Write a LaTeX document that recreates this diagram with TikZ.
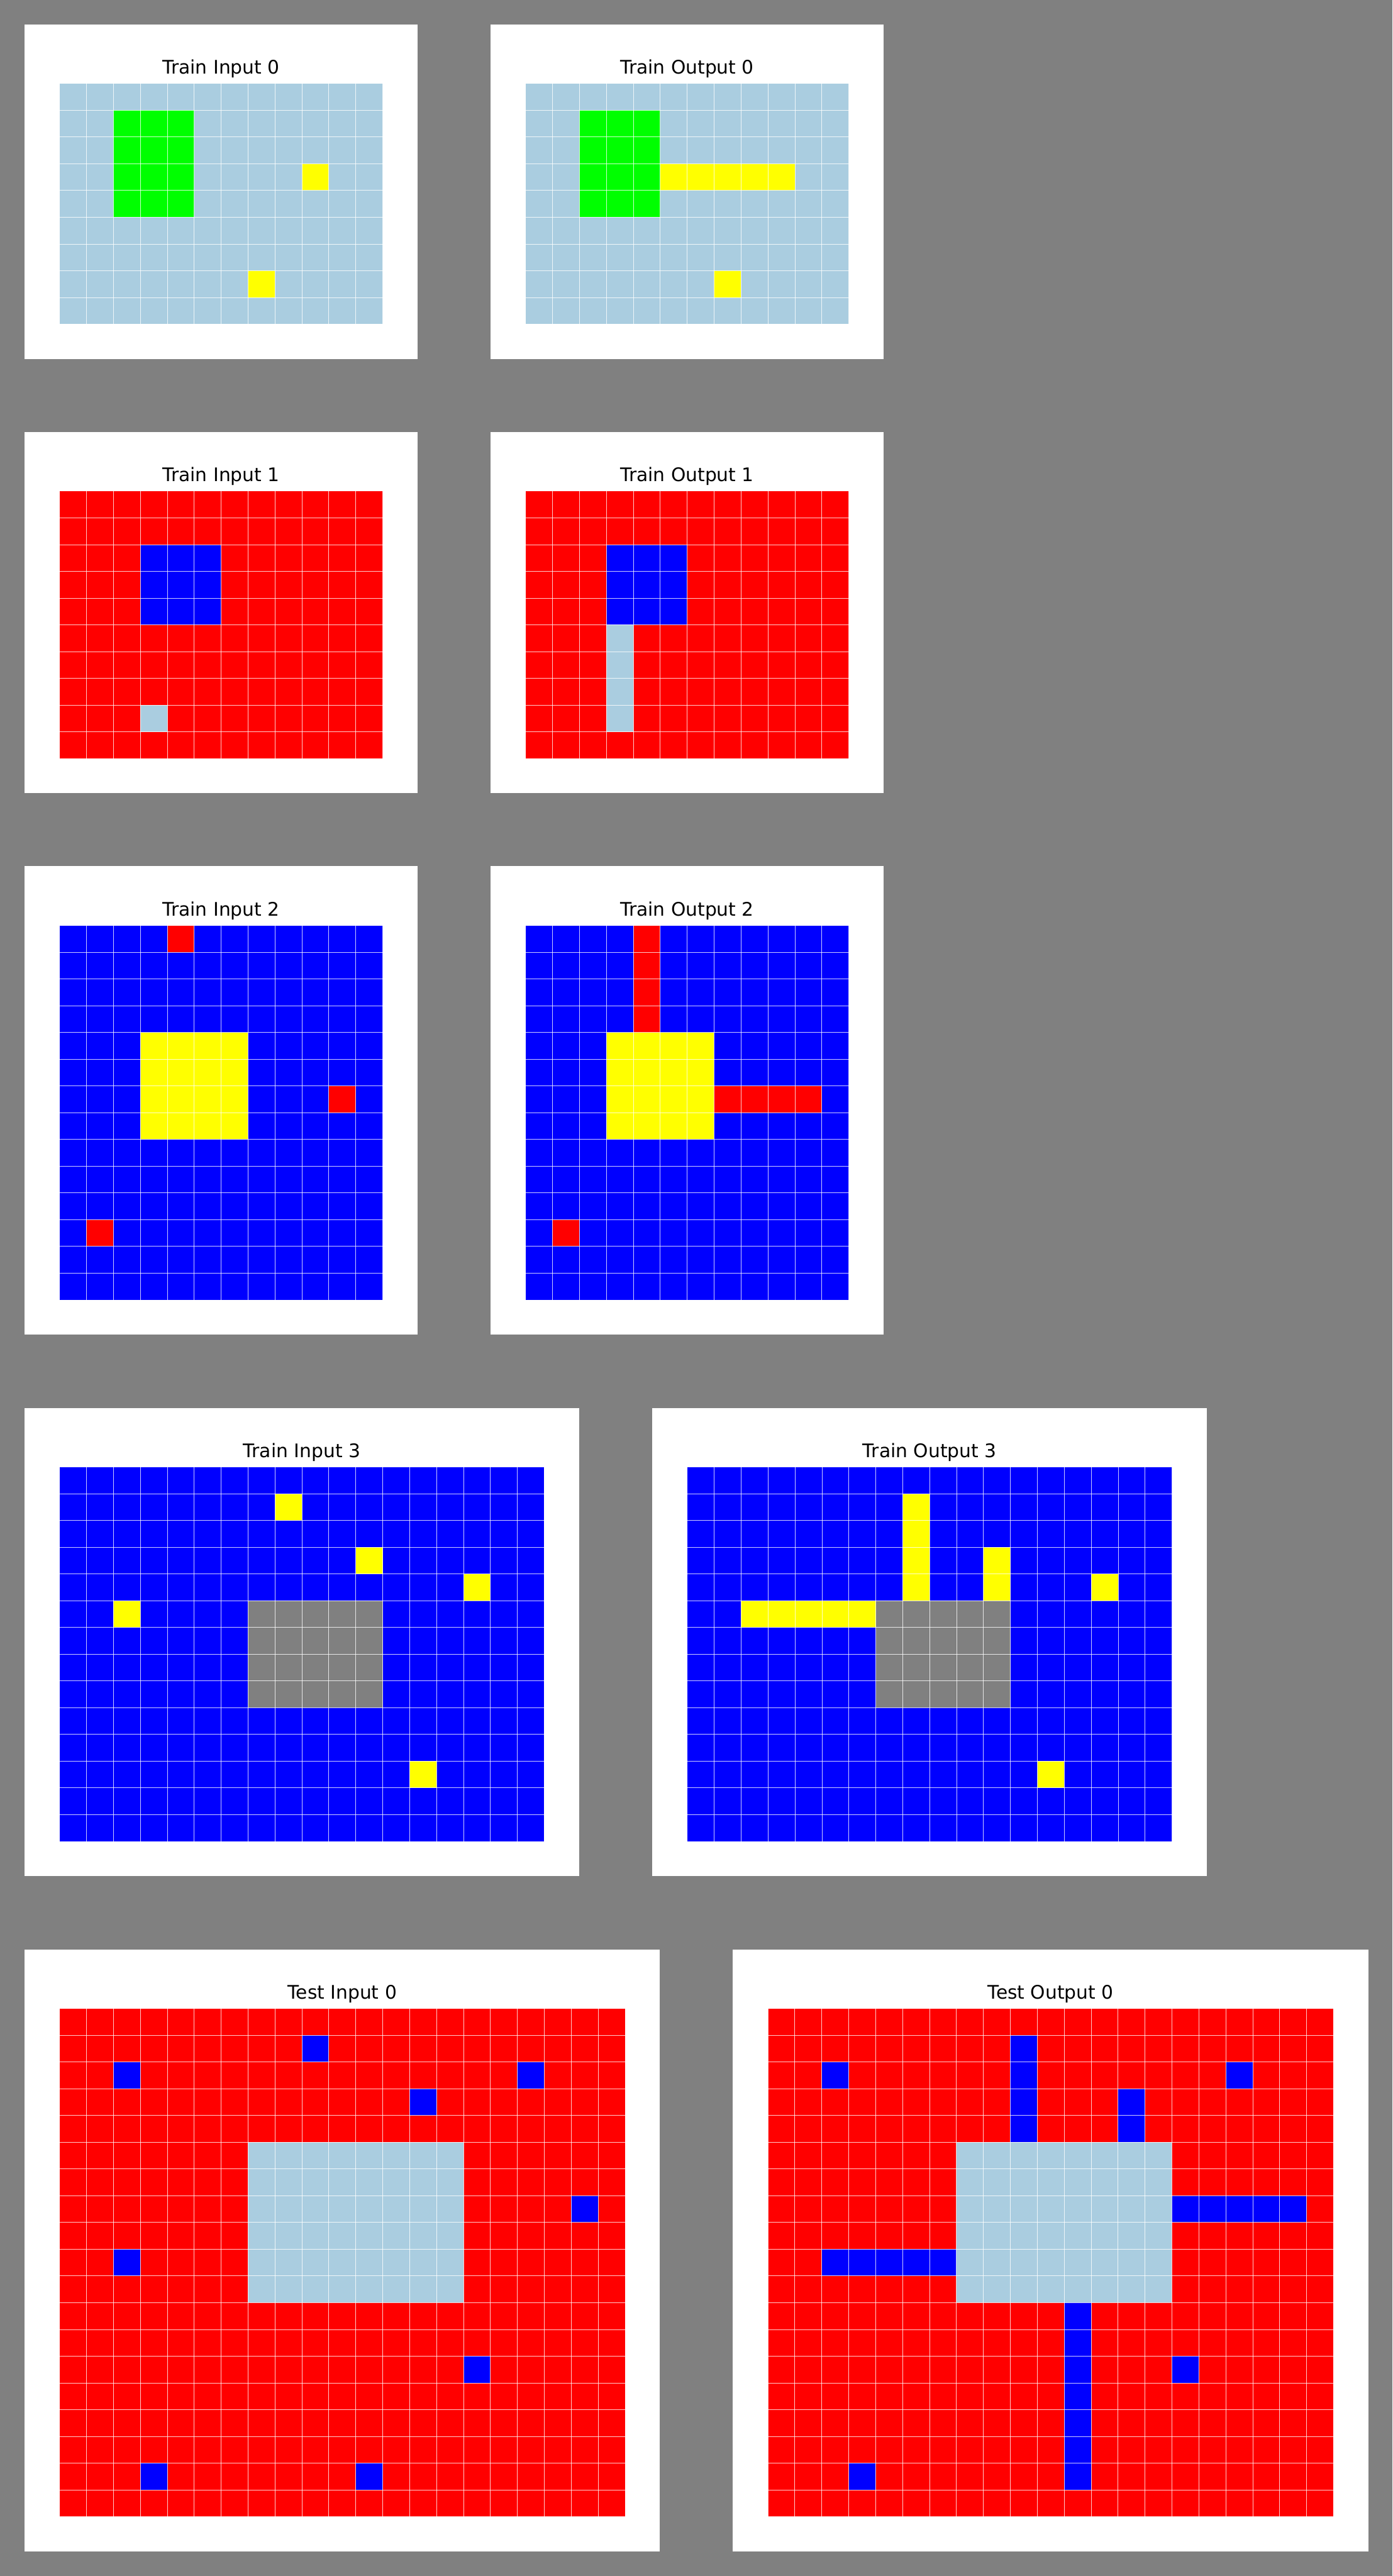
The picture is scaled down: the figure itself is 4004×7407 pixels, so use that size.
\documentclass[tikz,border=0pt]{standalone}
\usepackage{fontspec}
\setmainfont{DejaVu Sans}
\usepackage{tikz}

\definecolor{backgray}{RGB}{128,128,128}
\definecolor{arcblue}{RGB}{0,0,255}
\definecolor{arcred}{RGB}{255,0,0}
\definecolor{arcgreen}{RGB}{0,255,0}
\definecolor{arcyellow}{RGB}{255,255,0}
\definecolor{arcgray}{RGB}{128,128,128}
\definecolor{arclight}{RGB}{170,205,224}

% white card, title and background colour of one grid (cols, rows, colour, name, title)
\newcommand{\arcpanel}[5]{%
	\fill[white] (-1.304,-2.211) rectangle (#1+1.291,#2+1.3);
	\node[anchor=base] (#4) at (#1/2,-0.355) {#5};
	\fill[#3] (0,0) rectangle (#1,#2);}
% thin white cell lines over a grid
\newcommand{\cellgrid}[2]{%
	\foreach \i in {0,...,#1} \draw[gridline] (\i,0) -- (\i,#2);
	\foreach \j in {0,...,#2} \draw[gridline] (0,\j) -- (#1,\j);}

\begin{document}
\begin{tikzpicture}[x=0.1mm, y=-0.1mm,
	gridline/.style={draw=white, draw opacity=0.8, line width=0.13mm},
	cellunits/.style={x=7.745mm, y=-7.69mm},
	every node/.style={font=\fontsize{15.3}{18}\selectfont, inner sep=0pt}]
	\fill[backgray] (0,0) rectangle (4004,7407);
	\useasboundingbox (0,0) rectangle (4004,7407);

	% train pair 0
	\begin{scope}[shift={(171,240)}, cellunits]
		\arcpanel{12}{9}{arclight}{tin0}{Train Input 0}
		\fill[arcgreen] (2,1) rectangle (5,5);
		\fill[arcyellow] (9,3) rectangle +(1,1);
		\fill[arcyellow] (7,7) rectangle +(1,1);
		\cellgrid{12}{9}
	\end{scope}
	\begin{scope}[shift={(1511,240)}, cellunits]
		\arcpanel{12}{9}{arclight}{tout0}{Train Output 0}
		\fill[arcgreen] (2,1) rectangle (5,5);
		\fill[arcyellow] (5,3) rectangle (10,4);
		\fill[arcyellow] (7,7) rectangle +(1,1);
		\cellgrid{12}{9}
	\end{scope}

	% train pair 1
	\begin{scope}[shift={(171,1412)}, cellunits]
		\arcpanel{12}{10}{arcred}{tin1}{Train Input 1}
		\fill[arcblue] (3,2) rectangle (6,5);
		\fill[arclight] (3,8) rectangle +(1,1);
		\cellgrid{12}{10}
	\end{scope}
	\begin{scope}[shift={(1511,1412)}, cellunits]
		\arcpanel{12}{10}{arcred}{tout1}{Train Output 1}
		\fill[arcblue] (3,2) rectangle (6,5);
		\fill[arclight] (3,5) rectangle (4,9);
		\cellgrid{12}{10}
	\end{scope}

	% train pair 2
	\begin{scope}[shift={(171,2661)}, cellunits]
		\arcpanel{12}{14}{arcblue}{tin2}{Train Input 2}
		\fill[arcyellow] (3,4) rectangle (7,8);
		\fill[arcred] (4,0) rectangle +(1,1);
		\fill[arcred] (10,6) rectangle +(1,1);
		\fill[arcred] (1,11) rectangle +(1,1);
		\cellgrid{12}{14}
	\end{scope}
	\begin{scope}[shift={(1511,2661)}, cellunits]
		\arcpanel{12}{14}{arcblue}{tout2}{Train Output 2}
		\fill[arcyellow] (3,4) rectangle (7,8);
		\fill[arcred] (4,0) rectangle (5,4);
		\fill[arcred] (7,6) rectangle (11,7);
		\fill[arcred] (1,11) rectangle +(1,1);
		\cellgrid{12}{14}
	\end{scope}

	% train pair 3
	\begin{scope}[shift={(171,4218)}, cellunits]
		\arcpanel{18}{14}{arcblue}{tin3}{Train Input 3}
		\fill[arcgray] (7,5) rectangle (12,9);
		\fill[arcyellow] (8,1) rectangle +(1,1);
		\fill[arcyellow] (11,3) rectangle +(1,1);
		\fill[arcyellow] (15,4) rectangle +(1,1);
		\fill[arcyellow] (2,5) rectangle +(1,1);
		\fill[arcyellow] (13,11) rectangle +(1,1);
		\cellgrid{18}{14}
	\end{scope}
	\begin{scope}[shift={(1976,4218)}, cellunits]
		\arcpanel{18}{14}{arcblue}{tout3}{Train Output 3}
		\fill[arcgray] (7,5) rectangle (12,9);
		\fill[arcyellow] (8,1) rectangle (9,5);
		\fill[arcyellow] (11,3) rectangle (12,5);
		\fill[arcyellow] (15,4) rectangle +(1,1);
		\fill[arcyellow] (2,5) rectangle (7,6);
		\fill[arcyellow] (13,11) rectangle +(1,1);
		\cellgrid{18}{14}
	\end{scope}

	% test pair
	\begin{scope}[shift={(171,5775)}, cellunits]
		\arcpanel{21}{19}{arcred}{testin0}{Test Input 0}
		\fill[arclight] (7,5) rectangle (15,11);
		\foreach \c/\r in {9/1, 2/2, 17/2, 13/3, 19/7, 2/9, 15/13, 3/17, 11/17}
			\fill[arcblue] (\c,\r) rectangle +(1,1);
		\cellgrid{21}{19}
	\end{scope}
	\begin{scope}[shift={(2208,5775)}, cellunits]
		\arcpanel{21}{19}{arcred}{testout0}{Test Output 0}
		\fill[arclight] (7,5) rectangle (15,11);
		\fill[arcblue] (9,1) rectangle (10,5);
		\fill[arcblue] (13,3) rectangle (14,5);
		\fill[arcblue] (15,7) rectangle (20,8);
		\fill[arcblue] (2,9) rectangle (7,10);
		\fill[arcblue] (11,11) rectangle (12,18);
		\foreach \c/\r in {2/2, 17/2, 15/13, 3/17}
			\fill[arcblue] (\c,\r) rectangle +(1,1);
		\cellgrid{21}{19}
	\end{scope}
\end{tikzpicture}
\end{document}
